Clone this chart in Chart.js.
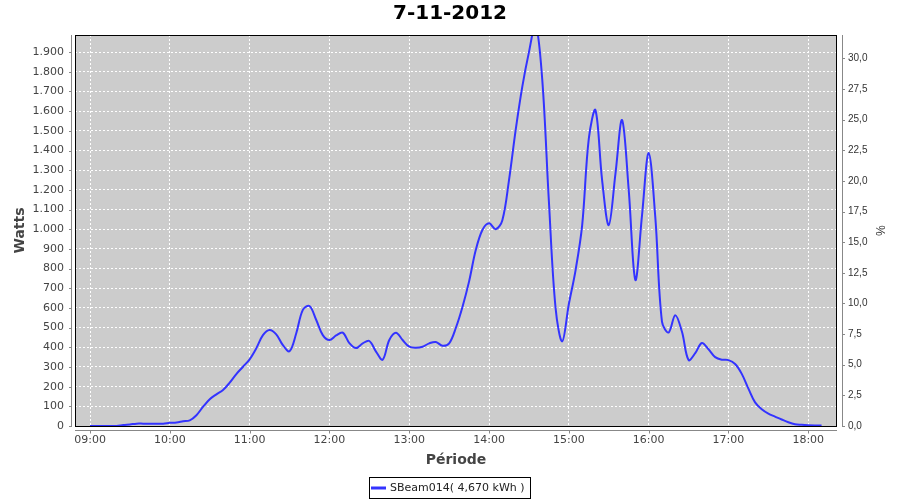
<!DOCTYPE html>
<html><head><meta charset="utf-8">
<script src="https://cdn.jsdelivr.net/npm/chart.js@4.4.0/dist/chart.umd.min.js"></script>
<style>html,body{margin:0;padding:0;background:#fff;}</style>
</head><body>
<canvas id="c" width="900" height="500"></canvas>
<script>
const chartTitle = '7-11-2012';
const seriesLabel = 'SBeam014( 4,670 kWh )';
const yTitle = 'Watts';
const y2Title = '%';
const xTitle = 'Période';

const times = [
 '09:00','09:05','09:10','09:15','09:20','09:25','09:30','09:35','09:40','09:45','09:50','09:55',
 '10:00','10:05','10:10','10:15','10:20','10:25','10:30','10:35','10:40','10:45','10:50','10:55',
 '11:00','11:05','11:10','11:15','11:20','11:25','11:30','11:35','11:40','11:45','11:50','11:55',
 '12:00','12:05','12:10','12:15','12:20','12:25','12:30','12:35','12:40','12:45','12:50','12:55',
 '13:00','13:05','13:10','13:15','13:20','13:25','13:30','13:35','13:40','13:45','13:50','13:55',
 '14:00','14:05','14:10','14:15','14:20','14:25','14:30','14:35','14:40','14:45','14:50','14:55',
 '15:00','15:05','15:10','15:15','15:20','15:25','15:30','15:35','15:40','15:45','15:50','15:55',
 '16:00','16:05','16:10','16:15','16:20','16:25','16:30','16:35','16:40','16:45','16:50','16:55',
 '17:00','17:05','17:10','17:15','17:20','17:25','17:30','17:35','17:40','17:45','17:50','17:55',
 '18:00','18:05','18:10'
];
const watts = [
 0,0,0,0,0,5,8,12,12,12,12,12,
 16,18,24,29,55,98,136,161,183,220,264,301,
 339,395,462,488,466,411,380,470,590,610,540,462,
 437,460,474,421,396,420,432,378,337,437,474,437,
 403,398,403,420,427,408,420,498,605,735,894,996,
 1030,1000,1046,1250,1504,1725,1900,2040,1760,1140,600,430,
 620,790,1020,1460,1605,1250,1021,1280,1555,1200,742,1070,
 1387,1060,530,475,563,480,335,370,422,390,350,337,
 335,315,265,190,120,85,63,48,33,19,9,6,
 4,3,3
];
const hourTicks = ['09:00','10:00','11:00','12:00','13:00','14:00','15:00','16:00','17:00','18:00'];
const wattTicks = [0,100,200,300,400,500,600,700,800,900,1000,1100,1200,1300,1400,1500,1600,1700,1800,1900];
const pctTicks = [0,2.5,5,7.5,10,12.5,15,17.5,20,22.5,25,27.5,30];

function toMin(s){ const p = s.split(':'); return (+p[0]-9)*60 + (+p[1]); }
function fmtThousands(v){ const s = String(Math.round(v)); return s.replace(/\B(?=(\d{3})+(?!\d))/g, '.'); }
function minToLabel(m){ const h = 9 + Math.floor(m/60), mm = m%60; return (h<10?'0':'')+h+':'+(mm<10?'0':'')+mm; }

const points = times.map((t,i)=>({x: toMin(t), y: watts[i]}));

Chart.defaults.font.family = 'DejaVu Sans';

const frame = {
  id: 'frame',
  beforeDraw(chart){
    const {ctx, chartArea:a} = chart;
    ctx.save();
    ctx.fillStyle = '#cccccc';
    ctx.fillRect(a.left, a.top, a.right-a.left, a.bottom-a.top);
    ctx.restore();
  },
  afterDraw(chart){
    const {ctx, chartArea:a, scales} = chart;
    ctx.save();
    ctx.strokeStyle = '#000'; ctx.lineWidth = 1;
    ctx.strokeRect(a.left+0.5, a.top+0.5, a.right-a.left-1, a.bottom-a.top);
    ctx.strokeStyle = '#888';
    const lx = a.left - 3.5;
    ctx.beginPath(); ctx.moveTo(lx, a.top); ctx.lineTo(lx, a.bottom+1);
    scales.y.ticks.forEach(t=>{ const py = Math.round(scales.y.getPixelForValue(t.value))+0.5; ctx.moveTo(lx-2.5, py); ctx.lineTo(lx, py); });
    ctx.stroke();
    const by = a.bottom + 4.5;
    ctx.beginPath(); ctx.moveTo(a.left, by); ctx.lineTo(a.right, by);
    scales.x.ticks.forEach(t=>{ const px = Math.round(scales.x.getPixelForValue(t.value))+0.5; ctx.moveTo(px, by); ctx.lineTo(px, by+3); });
    ctx.stroke();
    const rx = a.right + 5.5;
    ctx.beginPath(); ctx.moveTo(rx, a.top); ctx.lineTo(rx, a.bottom+1);
    scales.y2.ticks.forEach(t=>{ const py = Math.round(scales.y2.getPixelForValue(t.value))+0.5; ctx.moveTo(rx, py); ctx.lineTo(rx+2.5, py); });
    ctx.stroke();
    const ds = chart.data.datasets[0];
    ctx.strokeStyle = '#000';
    ctx.strokeRect(369.5, 477.5, 161, 21);
    ctx.strokeStyle = ds.borderColor; ctx.lineWidth = 3;
    ctx.beginPath(); ctx.moveTo(371, 488); ctx.lineTo(386, 488); ctx.stroke();
    ctx.fillStyle = '#222'; ctx.font = '11px "DejaVu Sans"'; ctx.textBaseline = 'middle'; ctx.textAlign = 'left';
    ctx.fillText(ds.label, 390, 488);
    ctx.restore();
  }
};

new Chart(document.getElementById('c'), {
  type: 'line',
  data: { datasets: [{
    label: seriesLabel,
    data: points,
    borderColor: '#3333ff',
    borderWidth: 2,
    pointRadius: 0,
    fill: false,
    tension: 0.35,
    yAxisID: 'y'
  }]},
  options: {
    responsive: false,
    animation: false,
    devicePixelRatio: 1,
    layout: { padding: 0 },
    plugins: {
      legend: { display: false },
      tooltip: { enabled: false },
      title: { display: true, text: chartTitle, color: '#000', font: { size: 20, weight: 'bold' }, padding: { top: 2, bottom: 9 } }
    },
    scales: {
      x: {
        type: 'linear', position: 'bottom', min: -11.3, max: 561.6,
        afterBuildTicks(s){ s.ticks = hourTicks.map(h=>({value: toMin(h)})); },
        afterFit(s){ s.height = 74; },
        ticks: { callback: v => minToLabel(v), color: '#444', font: { size: 11 }, padding: 8, maxRotation: 0, autoSkip: false },
        grid: { color: '#ffffff', lineWidth: 1, drawTicks: false },
        border: { display: false, dash: [2,2] },
        title: { display: true, text: xTitle, color: '#444', font: { size: 14, weight: 'bold' }, padding: { top: 0, bottom: 31.6 } }
      },
      y: {
        type: 'linear', position: 'left', min: 0, max: 1987,
        afterBuildTicks(s){ s.ticks = wattTicks.map(v=>({value: v})); },
        afterFit(s){ s.width = 75; },
        ticks: { callback: v => fmtThousands(v), color: '#444', font: { size: 11 }, padding: 11, autoSkip: false },
        grid: { color: '#ffffff', lineWidth: 1, drawTicks: false },
        border: { display: false, dash: [2,2] },
        title: { display: true, text: yTitle, color: '#444', font: { size: 14, weight: 'bold' }, padding: { top: 12, bottom: 0 } }
      },
      y2: {
        type: 'linear', position: 'right', min: 0, max: 31.9,
        afterBuildTicks(s){ s.ticks = pctTicks.map(v=>({value: v})); },
        afterFit(s){ s.width = 63; },
        ticks: { callback: v => v.toFixed(1).replace('.', ','), color: '#333', font: { family: 'Liberation Sans', size: 10 }, padding: 11, autoSkip: false },
        grid: { display: false, drawTicks: false },
        border: { display: false },
        title: { display: true, text: y2Title, color: '#333', font: { family: 'Liberation Sans', size: 12 }, padding: { top: 13, bottom: 0 } }
      }
    }
  },
  plugins: [frame]
});
</script>
</body></html>
